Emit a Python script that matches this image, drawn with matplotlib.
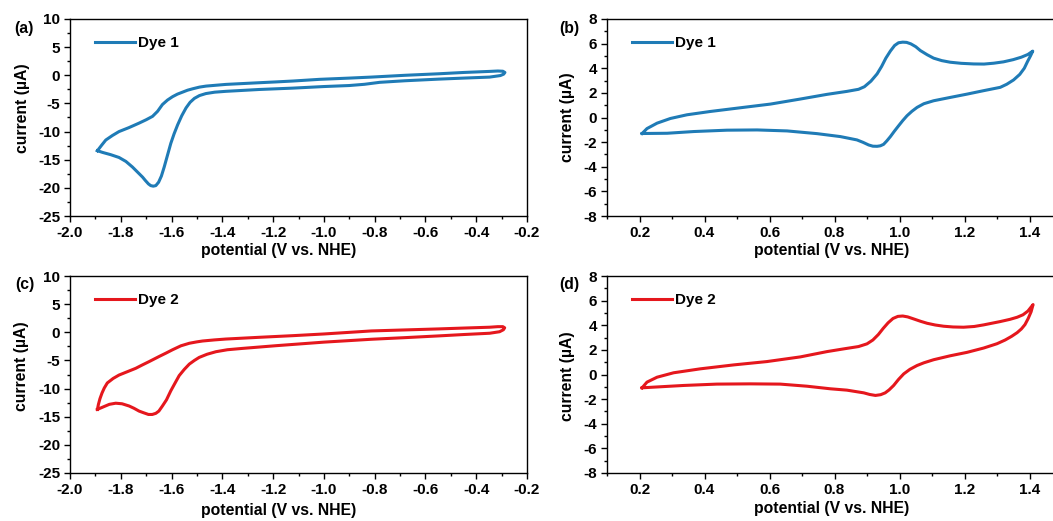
import numpy as np
import matplotlib
matplotlib.use('Agg')
import matplotlib.pyplot as plt
from matplotlib.ticker import MultipleLocator, FormatStrFormatter

plt.rcParams['font.family'] = ['Liberation Sans', 'DejaVu Sans']
plt.rcParams['font.weight'] = 'bold'
plt.rcParams['axes.labelweight'] = 'bold'
plt.rcParams['axes.unicode_minus'] = False

blue = '#1f7bb6'
red = '#e5171d'

# Dye 1, reduction scan (a): left tip -> upper branch -> right tip -> lower branch
v_a = [-1.892, -1.875, -1.859, -1.833, -1.807, -1.768, -1.728, -1.700, -1.675, -1.655,
       -1.636, -1.616, -1.596, -1.577, -1.557, -1.537, -1.517, -1.490, -1.464, -1.420,
       -1.386, -1.320, -1.254, -1.190, -1.122, -1.017, -0.900, -0.813, -0.680, -0.547,
       -0.450, -0.347, -0.315, -0.295, -0.287,
       -0.292, -0.305, -0.347, -0.450, -0.547, -0.680, -0.780, -0.840, -0.900, -1.000,
       -1.122, -1.254, -1.386, -1.430, -1.465, -1.490, -1.510, -1.527, -1.543, -1.560,
       -1.576, -1.590, -1.603, -1.616, -1.629, -1.640, -1.651, -1.662, -1.672, -1.682,
       -1.691, -1.703, -1.714, -1.734, -1.754, -1.780, -1.807, -1.840, -1.872, -1.892]
i_a = [-13.4, -12.4, -11.5, -10.7, -10.0, -9.3, -8.5, -7.9, -7.3, -6.4,
       -5.2, -4.4, -3.8, -3.35, -3.0, -2.65, -2.4, -2.1, -1.92, -1.75,
       -1.62, -1.47, -1.32, -1.18, -1.02, -0.72, -0.5, -0.32, 0.0, 0.27,
       0.5, 0.69, 0.76, 0.72, 0.5,
       0.2, -0.05, -0.32, -0.5, -0.68, -0.97, -1.25, -1.6, -1.82, -2.0,
       -2.28, -2.52, -2.85, -3.0, -3.25, -3.6, -4.1, -4.8, -5.8, -7.2,
       -8.8, -10.4, -12.1, -14.2, -16.3, -17.9, -19.0, -19.6, -19.7, -19.6,
       -19.3, -18.7, -18.1, -17.2, -16.3, -15.3, -14.6, -14.1, -13.7, -13.4]

# Dye 1, oxidation scan (b)
v_b = [0.208, 0.223, 0.254, 0.295, 0.346, 0.418, 0.510, 0.603, 0.695, 0.777,
       0.838, 0.874, 0.892, 0.912, 0.931, 0.945, 0.958, 0.972, 0.985, 0.997,
       1.010, 1.022, 1.035, 1.050, 1.064, 1.085, 1.105, 1.130, 1.156, 1.190,
       1.228, 1.260, 1.290, 1.320, 1.350, 1.375, 1.395, 1.410,
       1.403, 1.394, 1.384, 1.370, 1.351, 1.330, 1.310, 1.259, 1.208, 1.156,
       1.105, 1.075, 1.054, 1.038, 1.023, 1.010, 0.997, 0.984, 0.972, 0.961,
       0.951, 0.941, 0.931, 0.918, 0.905, 0.888, 0.869, 0.818, 0.746, 0.654,
       0.562, 0.469, 0.367, 0.285, 0.208]
i_b = [-1.30, -0.90, -0.46, -0.08, 0.22, 0.49, 0.79, 1.09, 1.50, 1.88,
       2.12, 2.29, 2.50, 2.95, 3.54, 4.15, 4.82, 5.40, 5.85, 6.07,
       6.12, 6.10, 5.98, 5.75, 5.44, 5.10, 4.82, 4.62, 4.49, 4.40,
       4.35, 4.34, 4.41, 4.52, 4.70, 4.90, 5.12, 5.39,
       5.00, 4.55, 4.00, 3.50, 3.05, 2.70, 2.45, 2.18, 1.90, 1.63,
       1.36, 1.12, 0.82, 0.50, 0.14, -0.25, -0.68, -1.12, -1.55, -1.90,
       -2.18, -2.30, -2.34, -2.33, -2.23, -2.02, -1.82, -1.55, -1.31, -1.09,
       -1.01, -1.03, -1.14, -1.28, -1.30]

# Dye 2, reduction scan (c)
v_c = [-1.892, -1.888, -1.882, -1.874, -1.865, -1.853, -1.830, -1.807, -1.774, -1.741,
       -1.715, -1.688, -1.649, -1.622, -1.596, -1.563, -1.530, -1.500, -1.478, -1.430,
       -1.386, -1.254, -1.122, -1.000, -0.813, -0.680, -0.547, -0.450, -0.347, -0.315,
       -0.295, -0.288,
       -0.293, -0.308, -0.347, -0.450, -0.547, -0.680, -0.813, -1.000, -1.188, -1.320,
       -1.380, -1.425, -1.460, -1.491, -1.510, -1.530, -1.550, -1.570, -1.586, -1.603,
       -1.620, -1.636, -1.650, -1.662, -1.676, -1.691, -1.710, -1.728, -1.748, -1.767,
       -1.795, -1.820, -1.845, -1.866, -1.892]
i_c = [-13.7, -12.8, -11.8, -10.8, -9.9, -9.0, -8.2, -7.6, -7.0, -6.4,
       -5.8, -5.2, -4.3, -3.7, -3.1, -2.4, -1.95, -1.7, -1.55, -1.35,
       -1.2, -0.89, -0.60, -0.30, 0.24, 0.42, 0.60, 0.75, 0.90, 1.0,
       1.0, 0.8,
       0.45, 0.1, -0.17, -0.4, -0.64, -0.95, -1.24, -1.75, -2.38, -2.86,
       -3.1, -3.45, -3.9, -4.46, -5.0, -5.65, -6.6, -7.7, -9.0, -10.4,
       -12.0, -13.1, -14.0, -14.4, -14.6, -14.6, -14.3, -14.0, -13.5, -13.1,
       -12.7, -12.6, -12.8, -13.2, -13.7]

# Dye 2, oxidation scan (d)
v_d = [0.208, 0.223, 0.254, 0.305, 0.387, 0.490, 0.592, 0.695, 0.777, 0.828,
       0.874, 0.900, 0.918, 0.935, 0.950, 0.965, 0.980, 0.995, 1.010, 1.025,
       1.044, 1.065, 1.085, 1.110, 1.136, 1.165, 1.197, 1.230, 1.259, 1.310,
       1.340, 1.362, 1.380, 1.395, 1.411,
       1.405, 1.396, 1.386, 1.375, 1.362, 1.345, 1.325, 1.300, 1.259, 1.208,
       1.156, 1.105, 1.075, 1.054, 1.032, 1.013, 0.997, 0.982, 0.968, 0.956,
       0.942, 0.926, 0.908, 0.890, 0.838, 0.787, 0.715, 0.633, 0.541, 0.438,
       0.336, 0.208]
i_d = [-1.08, -0.62, -0.22, 0.14, 0.46, 0.78, 1.05, 1.43, 1.86, 2.08,
       2.27, 2.49, 2.80, 3.25, 3.75, 4.20, 4.55, 4.72, 4.75, 4.68,
       4.51, 4.32, 4.16, 4.02, 3.92, 3.86, 3.84, 3.90, 4.03, 4.30,
       4.48, 4.65, 4.85, 5.15, 5.68,
       5.10, 4.55, 4.05, 3.70, 3.40, 3.10, 2.80, 2.50, 2.15, 1.80,
       1.52, 1.20, 0.95, 0.73, 0.42, 0.05, -0.40, -0.89, -1.25, -1.49,
       -1.64, -1.70, -1.62, -1.49, -1.27, -1.16, -0.95, -0.78, -0.76, -0.78,
       -0.89, -1.08]

W, H = 1053, 521
fig = plt.figure(figsize=(W / 100, H / 100), dpi=100)

# [left, top, width, height] in pixels
panels = [
    dict(box=(70, 19, 457, 197), v=v_a, i=i_a, color=blue, name='Dye 1', tag='(a)',
         xlim=(-2.0, -0.2), ylim=(-25, 10), ystep=5, tagpos=(14, 28),
         ylab=(-0.105, 0.548), xlab=(0.457, -0.173)),
    dict(box=(607, 19, 455, 197), v=v_b, i=i_b, color=blue, name='Dye 1', tag='(b)',
         xlim=(0.1, 1.5), ylim=(-8, 8), ystep=2, tagpos=(559, 29),
         ylab=(-0.086, 0.5), xlab=(0.493, -0.173)),
    dict(box=(70, 276, 457, 197), v=v_c, i=i_c, color=red, name='Dye 2', tag='(c)',
         xlim=(-2.0, -0.2), ylim=(-25, 10), ystep=5, tagpos=(15, 284),
         ylab=(-0.106, 0.543), xlab=(0.457, -0.19)),
    dict(box=(607, 276, 455, 197), v=v_d, i=i_d, color=red, name='Dye 2', tag='(d)',
         xlim=(0.1, 1.5), ylim=(-8, 8), ystep=2, tagpos=(559, 284),
         ylab=(-0.086, 0.49), xlab=(0.493, -0.178)),
]

for p in panels:
    l, t, w, h = p['box']
    ax = fig.add_axes([l / W, 1 - (t + h) / H, w / W, h / H])
    ax.plot(p['v'], p['i'], color=p['color'], lw=2.2, label=p['name'],
            solid_joinstyle='round')
    ax.set_xlim(p['xlim'])
    ax.set_ylim(p['ylim'])
    ax.xaxis.set_major_locator(MultipleLocator(0.2))
    ax.xaxis.set_minor_locator(MultipleLocator(0.1))
    ax.xaxis.set_major_formatter(FormatStrFormatter('%.1f'))
    ax.yaxis.set_major_locator(MultipleLocator(p['ystep']))
    ax.yaxis.set_minor_locator(MultipleLocator(p['ystep'] / 2))
    ax.tick_params(which='major', direction='out', length=4, width=1.0, labelsize=11, pad=3)
    ax.tick_params(which='minor', direction='out', length=2.5, width=1.0)
    for s in ax.spines.values():
        s.set_linewidth(1.0)
    ax.set_xlabel('potential (V vs. NHE)', fontsize=11.3)
    ax.set_ylabel('current (\u00b5A)', fontsize=11.3)
    ax.xaxis.label.set_va('center')
    ax.yaxis.label.set_va('center')
    ax.xaxis.set_label_coords(*p['xlab'])
    ax.yaxis.set_label_coords(*p['ylab'])
    ax.legend(loc='center left', bbox_to_anchor=(25 / w, 1 - 24 / h), frameon=False,
              fontsize=11, handlelength=2.6, handletextpad=0.2, borderpad=0,
              borderaxespad=0)
    fig.text(p['tagpos'][0] / W, 1 - p['tagpos'][1] / H, p['tag'], fontsize=11.3,
             ha='left', va='center')

fig.savefig('out.png', dpi=100)
